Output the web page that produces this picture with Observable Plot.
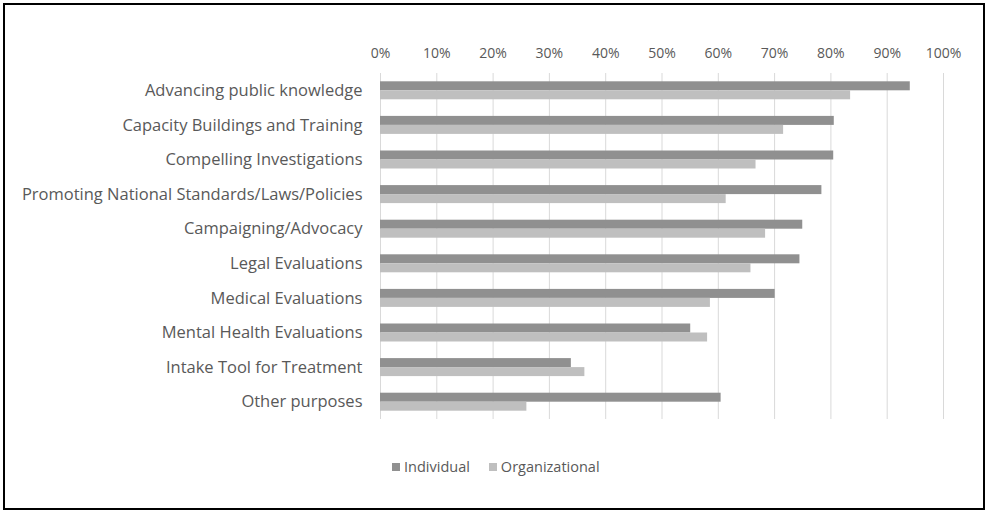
<!DOCTYPE html>
<html>
<head>
<meta charset="utf-8">
<script src="https://cdn.jsdelivr.net/npm/d3@7"></script>
<script src="https://cdn.jsdelivr.net/npm/@observablehq/plot@0.6"></script>
<style>
  body { margin: 0; background: #fff; font-family: "Open Sans", sans-serif; }
  #wrap { position: relative; width: 988px; height: 512px; }
  #frame { position: absolute; left: 3px; top: 3px; width: 978px; height: 503px; border: 2px solid #000; pointer-events: none; }
  #chart { position: absolute; left: 0; top: 0; }
  #legend { position: absolute; top: 457px; left: 392px; font-size: 14.5px; color: #595959; display: flex; gap: 19px; align-items: center; }
  #legend span.item { display: flex; align-items: center; gap: 4px; }
  #legend span.sw { display: inline-block; width: 8px; height: 8px; }
</style>
</head>
<body>
<div id="wrap">
  <div id="chart"></div>
  <div id="legend"></div>
  <div id="frame"></div>
</div>
<script>
const categories = [
  "Advancing public knowledge",
  "Capacity Buildings and Training",
  "Compelling Investigations",
  "Promoting National Standards/Laws/Policies",
  "Campaigning/Advocacy",
  "Legal Evaluations",
  "Medical Evaluations",
  "Mental Health Evaluations",
  "Intake Tool for Treatment",
  "Other purposes"
];
const seriesNames = ["Individual", "Organizational"];
const individual = [94.1, 80.6, 80.5, 78.4, 75.0, 74.5, 70.1, 55.1, 33.9, 60.5];
const organizational = [83.5, 71.6, 66.7, 61.4, 68.4, 65.8, 58.6, 58.1, 36.3, 26.0];
const xTicks = [0, 10, 20, 30, 40, 50, 60, 70, 80, 90, 100];
const colors = ["#909090", "#bfbfbf"];

const data = [];
categories.forEach((c, i) => {
  data.push({category: c, series: seriesNames[0], value: individual[i]});
  data.push({category: c, series: seriesNames[1], value: organizational[i]});
});

const plot = Plot.plot({
  width: 988,
  height: 440,
  marginTop: 73,
  marginBottom: 21,
  marginLeft: 380,
  marginRight: 45,
  style: { fontFamily: "'Open Sans', sans-serif", fontSize: "15px", color: "#595959", background: "transparent" },
  x: { domain: [0, 100], label: null },
  y: { domain: categories, padding: 0, round: false, label: null },
  color: { domain: seriesNames, range: colors },
  marks: [
    Plot.gridX(xTicks, { stroke: "#d9d9d9", strokeOpacity: 1, strokeWidth: 1 }),
    Plot.barX(data.filter(d => d.series === seriesNames[0]), {
      x: "value", y: "category", fill: "series", insetTop: 8.3, insetBottom: 17.3
    }),
    Plot.barX(data.filter(d => d.series === seriesNames[1]), {
      x: "value", y: "category", fill: "series", insetTop: 17.3, insetBottom: 8.3
    }),
    Plot.axisX(xTicks, { anchor: "top", tickSize: 0, tickPadding: 16, tickFormat: d => d + "%", fill: "#595959", fontSize: 14, label: null }),
    Plot.axisY({ anchor: "left", tickSize: 0, tickPadding: 18, fill: "#595959", fontSize: 16.5, label: null })
  ]
});
document.getElementById("chart").appendChild(plot);

const legend = document.getElementById("legend");
seriesNames.forEach((s, i) => {
  const item = document.createElement("span");
  item.className = "item";
  const sw = document.createElement("span");
  sw.className = "sw";
  sw.style.background = colors[i];
  item.appendChild(sw);
  const t = document.createElement("span");
  t.textContent = s;
  item.appendChild(t);
  legend.appendChild(item);
});
</script>
</body>
</html>
